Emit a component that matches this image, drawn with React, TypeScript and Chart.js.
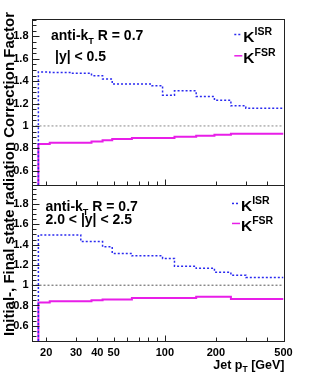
import React, { useEffect, useRef } from 'react';
import { Chart, registerables } from 'chart.js';
Chart.register(...registerables);

// ---- data ----
const BIN_EDGES = [18, 21, 28, 32, 37, 43, 49, 64, 84, 97, 114, 153, 196, 245, 300, 362, 500];
const TOP_ISR = [1.35, 1.482, 1.478, 1.47, 1.47, 1.449, 1.419, 1.374, 1.374, 1.36, 1.275, 1.314, 1.263, 1.23, 1.18, 1.159];
const TOP_FSR = [0.82, 0.838, 0.85, 0.85, 0.85, 0.862, 0.872, 0.883, 0.892, 0.892, 0.892, 0.904, 0.913, 0.922, 0.931, 0.931];
const BOT_ISR = [1.495, 1.495, 1.495, 1.495, 1.43, 1.43, 1.378, 1.312, 1.289, 1.289, 1.263, 1.187, 1.167, 1.128, 1.099, 1.076];
const BOT_FSR = [0.813, 0.829, 0.842, 0.842, 0.842, 0.852, 0.859, 0.859, 0.875, 0.875, 0.875, 0.875, 0.885, 0.885, 0.865, 0.865];
const X_LABELS = [20, 30, 40, 50, 100, 200, 500];
const X_TICKS = [20, 30, 40, 50, 60, 70, 80, 90, 100, 200, 300, 400, 500];
const Y_LABELS = [0.6, 0.8, 1, 1.2, 1.4, 1.6, 1.8];
const X_RANGE = [16.4, 500];
const TOP_Y_RANGE = [0.47, 1.96];
const BOT_Y_RANGE = [0.45, 1.985];
const UNITY = 1;
const TOP_TEXT = ['anti-k|T| R = 0.7', '|y| < 0.5'];
const BOT_TEXT = ['anti-k|T| R = 0.7', '2.0 < |y| < 2.5'];
const Y_TITLE = 'Initial-, Final state radiation Correction Factor';

const FONT = "'Liberation Sans', Arial, Helvetica, sans-serif";
const ISR_COLOR = '#2a2af0';
const FSR_COLOR = '#e81ee8';

function histPoints(edges: number[], values: number[], floor: number) {
  const pts = [{ x: edges[0], y: floor }];
  values.forEach((v, i) => pts.push({ x: edges[i], y: v }));
  pts.push({ x: edges[edges.length - 1], y: values[values.length - 1] });
  return pts;
}

type Part = { t: string; size: number; dy: number };
function drawParts(ctx: CanvasRenderingContext2D, x: number, y: number, parts: Part[], align: 'left' | 'right') {
  let w = 0;
  parts.forEach((p) => {
    ctx.font = `bold ${p.size}px ${FONT}`;
    w += ctx.measureText(p.t).width;
  });
  let cx = align === 'left' ? x : x - w;
  ctx.textAlign = 'left';
  ctx.textBaseline = 'alphabetic';
  parts.forEach((p) => {
    ctx.font = `bold ${p.size}px ${FONT}`;
    ctx.fillText(p.t, cx, y + p.dy);
    cx += ctx.measureText(p.t).width;
  });
}
function subParts(s: string, size: number): Part[] {
  const seg = s.split('|T|');
  if (seg.length === 1) return [{ t: s, size, dy: 0 }];
  return [
    { t: seg[0], size, dy: 0 },
    { t: 'T', size: size * 0.65, dy: size * 0.25 },
    { t: seg[1], size, dy: 0 },
  ];
}

const rootPlugin = {
  id: 'rootStyle',
  afterDatasetsDraw(chart: any) {
    const ctx: CanvasRenderingContext2D = chart.ctx;
    const xs = chart.scales.x;
    const ca = chart.chartArea;
    const left = Math.round(ca.left) + 0.5;
    const right = Math.round(ca.right) + 0.5;
    ctx.save();
    ctx.strokeStyle = '#222';
    ctx.lineWidth = 1;
    ctx.fillStyle = '#000';
    const panels = [chart.scales.yTop, chart.scales.yBot];
    panels.forEach((ys: any) => {
      const top = Math.round(ys.top) + 0.5;
      const bottom = Math.round(ys.bottom) + 0.5;
      ctx.setLineDash([]);
      ctx.strokeRect(left, top, right - left, bottom - top);
      const step = 0.05;
      for (let k = Math.ceil(ys.min / step - 1e-9); k * step <= ys.max + 1e-9; k++) {
        const v = k * step;
        const major = Math.abs(v / 0.2 - Math.round(v / 0.2)) < 1e-6;
        const py = Math.round(ys.getPixelForValue(v)) + 0.5;
        ctx.beginPath();
        ctx.moveTo(left, py);
        ctx.lineTo(left + (major ? 7 : 4), py);
        ctx.stroke();
      }
      X_TICKS.forEach((v) => {
        const px = Math.round(xs.getPixelForValue(v)) + 0.5;
        const len = v === 100 ? 6 : 4;
        ctx.beginPath();
        ctx.moveTo(px, bottom);
        ctx.lineTo(px, bottom - len);
        ctx.stroke();
      });
    });
    const yT = chart.scales.yTop;
    const yB = chart.scales.yBot;
    drawParts(ctx, 51, yT.top + 21.5, subParts(TOP_TEXT[0], 14), 'left');
    drawParts(ctx, 55, yT.top + 42, subParts(TOP_TEXT[1], 14), 'left');
    drawParts(ctx, 45.5, yB.top + 26, subParts(BOT_TEXT[0], 14), 'left');
    drawParts(ctx, 45.5, yB.top + 39, subParts(BOT_TEXT[1], 14), 'left');
    const legend = (lx: number, base: number, label: string, color: string, dashed: boolean) => {
      ctx.strokeStyle = color;
      ctx.lineWidth = 1.5;
      ctx.setLineDash(dashed ? [2, 2] : []);
      ctx.beginPath();
      ctx.moveTo(lx - 9, base - 7.5);
      ctx.lineTo(lx - 1, base - 7.5);
      ctx.stroke();
      ctx.setLineDash([]);
      ctx.fillStyle = '#000';
      drawParts(ctx, lx, base, [
        { t: 'K', size: 15.5, dy: 0 },
        { t: label, size: 10.5, dy: -7 },
      ], 'left');
    };
    legend(243.3, yT.top + 23.5, 'ISR', ISR_COLOR, true);
    legend(243.3, yT.top + 44.8, 'FSR', FSR_COLOR, false);
    legend(241, yB.top + 25.7, 'ISR', ISR_COLOR, true);
    legend(241, yB.top + 45.7, 'FSR', FSR_COLOR, false);
    ctx.fillStyle = '#000';
    drawParts(ctx, right, 369, [
      { t: 'Jet p', size: 12.5, dy: 0 },
      { t: 'T', size: 8.5, dy: 3 },
      { t: ' [GeV]', size: 12.5, dy: 0 },
    ], 'right');
    ctx.save();
    ctx.translate(14, 174);
    ctx.rotate(-Math.PI / 2);
    ctx.font = `bold 15px ${FONT}`;
    ctx.textAlign = 'center';
    ctx.textBaseline = 'alphabetic';
    ctx.fillText(Y_TITLE, 0, 0);
    ctx.restore();
    ctx.restore();
  },
};

export default function App() {
  const ref = useRef<HTMLCanvasElement | null>(null);
  useEffect(() => {
    if (!ref.current) return;
    const tickFont = { family: FONT, size: 11, weight: 'bold' as const };
    const yScale = (range: number[], weight: number) => ({
      type: 'linear' as const,
      position: 'left' as const,
      stack: 'panels',
      stackWeight: weight,
      min: range[0],
      max: range[1],
      grid: { display: false, drawTicks: false },
      border: { display: false },
      afterBuildTicks: (s: any) => {
        s.ticks = Y_LABELS.map((v) => ({ value: v }));
      },
      afterFit: (s: any) => {
        s.width = 31.5;
      },
      ticks: { color: '#000', font: tickFont, padding: 3, autoSkip: false, callback: (v: any) => String(v) },
    });
    const chart = new Chart(ref.current, {
      type: 'line',
      data: {
        datasets: [
          { data: [{ x: X_RANGE[0], y: UNITY }, { x: X_RANGE[1], y: UNITY }], yAxisID: 'yTop', borderColor: '#888', borderWidth: 1, borderDash: [2, 2], pointRadius: 0 },
          { data: [{ x: X_RANGE[0], y: UNITY }, { x: X_RANGE[1], y: UNITY }], yAxisID: 'yBot', borderColor: '#555', borderWidth: 1, borderDash: [2, 2], pointRadius: 0 },
          { data: histPoints(BIN_EDGES, TOP_ISR, TOP_Y_RANGE[0]), yAxisID: 'yTop', borderColor: ISR_COLOR, borderWidth: 1.5, borderDash: [2, 2], stepped: 'after', pointRadius: 0 },
          { data: histPoints(BIN_EDGES, TOP_FSR, TOP_Y_RANGE[0]), yAxisID: 'yTop', borderColor: FSR_COLOR, borderWidth: 2, stepped: 'after', pointRadius: 0 },
          { data: histPoints(BIN_EDGES, BOT_ISR, BOT_Y_RANGE[0]), yAxisID: 'yBot', borderColor: ISR_COLOR, borderWidth: 1.5, borderDash: [2, 2], stepped: 'after', pointRadius: 0 },
          { data: histPoints(BIN_EDGES, BOT_FSR, BOT_Y_RANGE[0]), yAxisID: 'yBot', borderColor: FSR_COLOR, borderWidth: 2, stepped: 'after', pointRadius: 0 },
        ] as any,
      },
      options: {
        animation: false,
        responsive: false,
        devicePixelRatio: 1,
        layout: { padding: { top: 18.5, right: 31.5, left: 0, bottom: 0 } },
        plugins: { legend: { display: false }, tooltip: { enabled: false } },
        scales: {
          x: {
            type: 'logarithmic',
            min: X_RANGE[0],
            max: X_RANGE[1],
            grid: { display: false, drawTicks: false },
            border: { display: false },
            afterBuildTicks: (s: any) => {
              s.ticks = X_LABELS.map((v) => ({ value: v }));
            },
            afterFit: (s: any) => {
              s.height = 34;
            },
            ticks: { color: '#000', font: tickFont, padding: 5, autoSkip: false, maxRotation: 0, callback: (v: any) => String(v) },
          },
          yBot: yScale(BOT_Y_RANGE, 155.5),
          yTop: yScale(TOP_Y_RANGE, 166.5),
        } as any,
      },
      plugins: [rootPlugin],
    });
    return () => chart.destroy();
  }, []);
  return (
    <div style={{ position: 'absolute', left: 0, top: 0, width: 315, height: 375, background: '#fff' }}>
      <canvas ref={ref} width={315} height={375} style={{ display: 'block', width: 315, height: 375 }} />
    </div>
  );
}
